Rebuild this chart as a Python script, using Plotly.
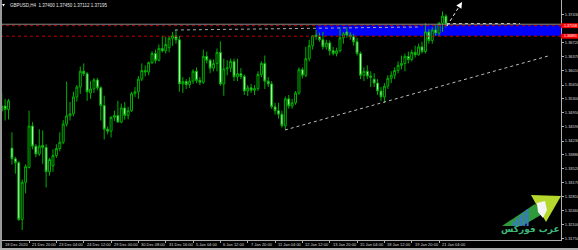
import plotly.graph_objects as go

# ---------------- data (GBPUSD H4) ----------------
bar_index = list(range(131))

opens = [1.3500,1.3512,1.3503,1.3405,1.3378,1.3368,1.3224,1.3318,1.3356,1.3461,
         1.3410,1.3390,1.3412,1.3407,1.3345,1.3360,1.3386,1.3404,1.3420,1.3466,
         1.3487,1.3492,1.3535,1.3560,1.3600,1.3594,1.3545,1.3555,1.3578,1.3558,
         1.3513,1.3453,1.3448,1.3483,1.3488,1.3471,1.3507,1.3488,1.3500,1.3543,
         1.3548,1.3580,1.3602,1.3598,1.3622,1.3645,1.3628,1.3658,1.3652,1.3660,
         1.3684,1.3690,1.3680,1.3568,1.3574,1.3566,1.3575,1.3600,1.3577,1.3572,
         1.3638,1.3628,1.3608,1.3620,1.3648,1.3568,1.3606,1.3609,1.3625,1.3586,
         1.3594,1.3587,1.3550,1.3558,1.3552,1.3556,1.3592,1.3620,1.3575,1.3568,
         1.3510,1.3500,1.3491,1.3462,1.3530,1.3512,1.3520,1.3545,1.3604,1.3590,
         1.3632,1.3665,1.3692,1.3688,1.3680,1.3662,1.3672,1.3652,1.3645,1.3652,
         1.3685,1.3700,1.3692,1.3688,1.3675,1.3645,1.3590,1.3600,1.3588,1.3580,
         1.3570,1.3550,1.3535,1.3562,1.3582,1.3590,1.3602,1.3615,1.3620,1.3638,
         1.3630,1.3648,1.3642,1.3662,1.3650,1.3700,1.3678,1.3705,1.3697,1.3722,
         1.3740]

highs = [1.3545,1.3530,1.3530,1.3445,1.3383,1.3372,1.3325,1.3364,1.3500,1.3471,
         1.3415,1.3453,1.3450,1.3415,1.3380,1.3402,1.3415,1.3445,1.3476,1.3574,
         1.3522,1.3548,1.3565,1.3612,1.3620,1.3598,1.3575,1.3583,1.3583,1.3562,
         1.3538,1.3460,1.3486,1.3500,1.3525,1.3518,1.3522,1.3510,1.3548,1.3560,
         1.3588,1.3620,1.3615,1.3625,1.3651,1.3655,1.3668,1.3690,1.3688,1.3688,
         1.3700,1.3705,1.3690,1.3585,1.3580,1.3585,1.3605,1.3610,1.3585,1.3655,
         1.3650,1.3632,1.3630,1.3658,1.3676,1.3632,1.3628,1.3632,1.3632,1.3632,
         1.3608,1.3592,1.3565,1.3568,1.3565,1.3600,1.3625,1.3640,1.3585,1.3575,
         1.3520,1.3520,1.3500,1.3536,1.3540,1.3530,1.3550,1.3610,1.3610,1.3662,
         1.3680,1.3692,1.3705,1.3698,1.3700,1.3680,1.3678,1.3662,1.3660,1.3712,
         1.3700,1.3712,1.3700,1.3695,1.3685,1.3650,1.3610,1.3615,1.3600,1.3595,
         1.3580,1.3560,1.3570,1.3590,1.3600,1.3610,1.3625,1.3640,1.3645,1.3650,
         1.3655,1.3665,1.3670,1.3675,1.3722,1.3708,1.3712,1.3718,1.3725,1.3752,
         1.3745]

lows = [1.3495,1.3475,1.3478,1.3363,1.3340,1.3220,1.3197,1.3290,1.3353,1.3402,
        1.3382,1.3385,1.3365,1.3305,1.3335,1.3345,1.3380,1.3397,1.3415,1.3460,
        1.3475,1.3486,1.3523,1.3543,1.3588,1.3525,1.3530,1.3545,1.3552,1.3475,
        1.3427,1.3440,1.3432,1.3474,1.3470,1.3468,1.3477,1.3478,1.3497,1.3535,
        1.3530,1.3575,1.3587,1.3590,1.3618,1.3620,1.3625,1.3648,1.3645,1.3648,
        1.3665,1.3670,1.3548,1.3545,1.3555,1.3558,1.3568,1.3570,1.3565,1.3568,
        1.3620,1.3595,1.3600,1.3600,1.3563,1.3538,1.3590,1.3598,1.3575,1.3575,
        1.3580,1.3540,1.3537,1.3545,1.3540,1.3550,1.3585,1.3555,1.3560,1.3505,
        1.3490,1.3480,1.3457,1.3452,1.3505,1.3505,1.3515,1.3540,1.3582,1.3585,
        1.3625,1.3655,1.3680,1.3675,1.3655,1.3655,1.3640,1.3640,1.3638,1.3648,
        1.3670,1.3685,1.3680,1.3665,1.3640,1.3580,1.3575,1.3580,1.3560,1.3560,
        1.3540,1.3525,1.3520,1.3555,1.3570,1.3580,1.3595,1.3605,1.3600,1.3620,
        1.3625,1.3635,1.3640,1.3645,1.3645,1.3670,1.3670,1.3690,1.3690,1.3700,
        1.37112]

closes = [1.3512,1.3503,1.3525,1.3378,1.3368,1.3224,1.3318,1.3358,1.3461,1.3410,
          1.3390,1.3410,1.3407,1.3345,1.3376,1.3386,1.3404,1.3420,1.3466,1.3487,
          1.3492,1.3535,1.3560,1.3600,1.3594,1.3548,1.3555,1.3578,1.3558,1.3513,
          1.3453,1.3448,1.3483,1.3488,1.3471,1.3507,1.3488,1.3500,1.3543,1.3548,
          1.3580,1.3602,1.3598,1.3622,1.3645,1.3628,1.3658,1.3652,1.3668,1.3684,
          1.3690,1.3680,1.3568,1.3574,1.3566,1.3575,1.3600,1.3577,1.3572,1.3638,
          1.3628,1.3608,1.3620,1.3648,1.3568,1.3606,1.3609,1.3625,1.3586,1.3594,
          1.3587,1.3550,1.3558,1.3552,1.3556,1.3592,1.3620,1.3575,1.3568,1.3510,
          1.3500,1.3491,1.3462,1.3530,1.3512,1.3520,1.3545,1.3604,1.3590,1.3632,
          1.3665,1.3690,1.3688,1.3680,1.3662,1.3672,1.3652,1.3645,1.3652,1.3685,
          1.3695,1.3692,1.3688,1.3675,1.3645,1.3590,1.3600,1.3588,1.3585,1.3570,
          1.3550,1.3535,1.3562,1.3582,1.3590,1.3602,1.3615,1.3620,1.3638,1.3630,
          1.3648,1.3642,1.3662,1.3650,1.3700,1.3678,1.3705,1.3697,1.3722,1.3740,
          1.37195]

x_tick_index = [0, 8, 16, 24, 32, 40, 48, 56, 64, 72, 80, 88, 96, 104, 112, 120, 128]
x_tick_labels = ["18 Dec 2020", "21 Dec 20:00", "23 Dec 04:00", "24 Dec 12:00",
                 "29 Dec 00:00", "30 Dec 08:00", "31 Dec 16:00", "5 Jan 04:00",
                 "6 Jan 12:00", "7 Jan 20:00", "11 Jan 04:00", "12 Jan 12:00",
                 "13 Jan 20:00", "15 Jan 04:00", "18 Jan 12:00", "19 Jan 20:00",
                 "21 Jan 04:00"]
y_tick_values = [1.37430, 1.36720, 1.36370, 1.36010, 1.35650, 1.35300, 1.34950,
                 1.34590, 1.34230, 1.33880, 1.33520, 1.33170, 1.32810, 1.32460,
                 1.32100, 1.31750]
y_tick_labels = ["%.5f" % v for v in y_tick_values]

# drawn objects (levels / trend lines) in bar-index / price units
level_upper = 1.37158
level_lower = 1.36891
zone_top = 1.37172
zone_bottom = 1.36904
zone_start = 92
trend_up = [(82.9, 1.34510), (159.9, 1.36388)]
resistance = [(50.7, 1.37048), (122.4, 1.37125)]
arrow_line = [(130.3, 1.37150), (134.7, 1.37759)]
target_line = [(130.3, 1.37213), (151.7, 1.37213)]
header = "GBPUSD,H4  1.37400 1.37450 1.37112 1.37195"
logo_text = "عرب فوركس"

# ---------------- layout geometry ----------------
W, H = 578, 250
ML, MR, MT, MB = 0, 17, 0, 10
PW, PH = W - ML - MR, H - MT - MB
FONT = "Liberation Sans Narrow, Liberation Sans, Arial, sans-serif"
GREEN = "#00b000"

def P(x, y):
    return x / PW, (PH - y) / PH

def path(points):
    s = ""
    for k, (x, y) in enumerate(points):
        px, py = P(x, y)
        s += ("M" if k == 0 else "L") + f"{px:.5f},{py:.5f} "
    return s + "Z"

fig = go.Figure()
fig.add_trace(go.Candlestick(
    x=bar_index, open=opens, high=highs, low=lows, close=closes,
    increasing=dict(line=dict(color=GREEN, width=1), fillcolor="#000000"),
    decreasing=dict(line=dict(color=GREEN, width=1), fillcolor="#d4f7d4"),
    whiskerwidth=0, showlegend=False, hoverinfo="skip"))

shapes = []
# blue zone
shapes.append(dict(type="rect", xref="x", yref="y", x0=zone_start, x1=175,
                   y0=zone_bottom, y1=zone_top, fillcolor="#0000ff",
                   line=dict(width=0), layer="below"))
# bid line
shapes.append(dict(type="line", xref="paper", yref="y", x0=0, x1=1,
                   y0=closes[-1], y1=closes[-1], line=dict(color="#8a8a8a", width=1)))
# red levels
for lv in (level_upper, level_lower):
    shapes.append(dict(type="line", xref="paper", yref="y", x0=0, x1=1, y0=lv, y1=lv,
                       line=dict(color="#c00000", width=1, dash="dot")))
# trend lines
for seg, col in ((trend_up, "#bcbcbc"), (resistance, "#a8a8a8"),
                 (arrow_line, "#ffffff"), (target_line, "#c0c0c0")):
    shapes.append(dict(type="line", xref="x", yref="y", x0=seg[0][0], y0=seg[0][1],
                       x1=seg[1][0], y1=seg[1][1],
                       line=dict(color=col, width=1, dash="dot")))
# red price labels on the axis
for lv in (level_upper, level_lower):
    shapes.append(dict(type="rect", xref="paper", yref="y", x0=1.0, x1=W / PW,
                       y0=lv - 0.00062, y1=lv + 0.00062, fillcolor="#ff0000",
                       line=dict(width=0), layer="above"))
# window frame
shapes.append(dict(type="rect", xref="paper", yref="paper", x0=0, x1=2 / PW,
                   y0=-MB / PH, y1=1, fillcolor="#9a9a9a", line=dict(width=0)))
shapes.append(dict(type="rect", xref="paper", yref="paper", x0=0, x1=W / PW,
                   y0=-MB / PH, y1=-8 / PH, fillcolor="#b0b0b0", line=dict(width=0)))
# header icon
shapes.append(dict(type="path", path=path([(2, 4), (5, 4), (3.5, 6.5)]),
                   xref="paper", yref="paper", fillcolor="#ffffff", line=dict(width=0)))
# logo
shapes.append(dict(type="path", path=path([(502, 226), (535, 204), (546, 212), (522, 226)]),
                   xref="paper", yref="paper", fillcolor="#2f9a3c", line=dict(width=0)))
shapes.append(dict(type="path", path=path([(531, 195), (561, 196), (546, 222)]),
                   xref="paper", yref="paper", fillcolor="#b6d82c", line=dict(width=0)))
for k in range(5):
    x0 = 513 + 3.4 * k
    shapes.append(dict(type="path", path=path([(x0, 226), (x0 + 2, 226), (x0 + 2, 221 - 3 * k), (x0, 221 - 3 * k)]),
                       xref="paper", yref="paper", fillcolor="#3a74d6", line=dict(width=0)))
shapes.append(dict(type="path", path=path([(537, 203), (545, 201), (547, 210), (543, 218), (538, 212)]),
                   xref="paper", yref="paper", fillcolor="#f4f4f4", line=dict(width=0)))

annotations = []
for v, t in zip(x_tick_index, x_tick_labels):
    annotations.append(dict(x=v, y=-4.5 / PH, xref="x", yref="paper", text=t,
                            showarrow=False, xanchor="left", yanchor="middle", xshift=0.8,
                            font=dict(size=4, color="#d8d8d8", family=FONT)))
for lv in (level_upper, level_lower):
    annotations.append(dict(x=1.0, y=lv, xref="paper", yref="y", text="%.5f" % lv,
                            showarrow=False, xanchor="left", yanchor="middle", xshift=1.0,
                            font=dict(size=3.6, color="#ffffff", family=FONT)))
annotations.append(dict(x=arrow_line[1][0], y=arrow_line[1][1], xref="x", yref="y",
                        text="", showarrow=True, ax=-3, ay=5, arrowhead=2, arrowsize=1,
                        arrowwidth=1.2, arrowcolor="#ffffff", standoff=0))
annotations.append(dict(x=8 / PW, y=(PH - 5) / PH, xref="paper", yref="paper", text=header,
                        showarrow=False, xanchor="left", yanchor="middle",
                        font=dict(size=4.5, color="#e6e6e6", family=FONT)))
annotations.append(dict(x=530 / PW, y=(PH - 229.5) / PH, xref="paper", yref="paper",
                        text="<b>" + logo_text + "</b>", showarrow=False,
                        xanchor="center", yanchor="middle",
                        font=dict(size=9, color="#3cb878", family="DejaVu Sans")))

fig.update_layout(
    width=W, height=H, margin=dict(l=ML, r=MR, t=MT, b=MB, pad=0),
    paper_bgcolor="#000000", plot_bgcolor="#000000", template="none",
    showlegend=False, shapes=shapes, annotations=annotations, boxgap=0.2,
    xaxis=dict(range=[-0.4975, 163.68], showgrid=False, zeroline=False,
               showline=True, linecolor="#b0b0b0", linewidth=1,
               ticks="outside", ticklen=2, tickcolor="#b0b0b0",
               tickvals=x_tick_index, showticklabels=False,
               rangeslider=dict(visible=False), automargin=False, fixedrange=True),
    yaxis=dict(range=[1.31717, 1.37810], side="right", showgrid=False, zeroline=False,
               showline=True, linecolor="#b0b0b0", linewidth=1,
               ticks="outside", ticklen=2, tickcolor="#b0b0b0",
               tickvals=y_tick_values, ticktext=y_tick_labels,
               tickfont=dict(size=4, color="#d8d8d8", family=FONT),
               automargin=False, fixedrange=True),
)

fig.write_html("out.html")
